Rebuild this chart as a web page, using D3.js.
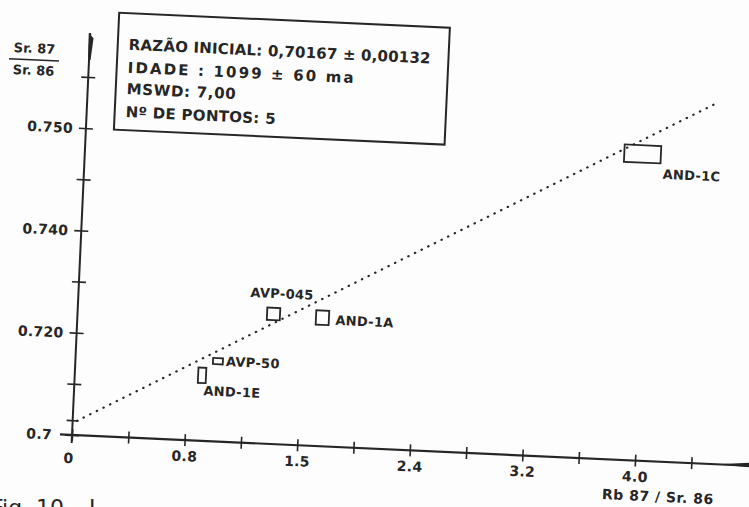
<html>
<head>
  <style type="text/css">
    body { margin: 0; background: #fdfdfd; }
    text { font-family: "DejaVu Sans", sans-serif; fill: #262626; }
  </style>
</head>
<body>
  <div id="viz"></div>
  <script src="https://cdnjs.cloudflare.com/ajax/libs/d3/7.8.5/d3.min.js"></script>
  <script>
  // tick values and the labels printed on the original (labels kept as printed)
  const xTicks = [0, 0.4, 0.8, 1.2, 1.6, 2.0, 2.4, 2.8, 3.2, 3.6, 4.0, 4.4];
  const xTickLabels = ['0', '', '0.8', '', '1.5', '', '2.4', '', '3.2', '', '4.0', ''];
  const yTicks = [0.70, 0.71, 0.72, 0.73, 0.74, 0.75, 0.76, 0.77];
  const yTickLabels = ['0.7', '', '0.720', '', '0.740', '', '0.750', ''];

  // samples: Rb87/Sr86, Sr87/Sr86 and the half size of the error boxes
  const samples = ['AND-1C', 'AND-1A', 'AVP-045', 'AVP-50', 'AND-1E'];
  const rbSr = [3.955, 1.738, 1.390, 1.011, 0.903];
  const srSr = [0.7599, 0.7251, 0.7254, 0.7157, 0.7128];
  const rbErr = [0.13, 0.046, 0.046, 0.035, 0.028];
  const srErr = [0.0017, 0.0014, 0.0012, 0.0006, 0.0015];

  // isochron as drawn (dotted)
  const lineX = [0.03, 4.48];
  const lineY = [0.7028, 0.7707];

  const legendLines = [
    'RAZÃO INICIAL:  0,70167 ± 0,00132',
    'IDADE :  1099  ±  60    ma',
    'MSWD:  7,00',
    'Nº DE PONTOS:  5'
  ];

  const width = 749, height = 507;
  const ox = 72, oy = 435;   // origin of the axes
  const ink = '#262626';

  const x = d3.scaleLinear().domain([0, 4.8]).range([ox, ox + 4.8 * 140.9]);
  const y = d3.scaleLinear().domain([0.70, 0.78]).range([oy, oy - 8 * 51.2]);

  const svg = d3.select('#viz').append('svg')
    .attr('width', width)
    .attr('height', height);

  svg.append('rect').attr('width', width).attr('height', height).attr('fill', '#fdfdfd');

  // the scanned page is a little skewed
  const g = svg.append('g')
    .attr('transform', 'rotate(2.6,' + ox + ',' + oy + ')');

  // x axis
  const xAxis = d3.axisBottom(x)
    .tickValues(xTicks)
    .tickFormat((d, i) => xTickLabels[i])
    .tickSizeOuter(0);

  const xg = g.append('g')
    .attr('transform', 'translate(0,' + oy + ')')
    .call(xAxis);
  xg.select('.domain').remove();
  xg.selectAll('.tick line').attr('y1', -6).attr('y2', 6)
    .attr('stroke', ink).attr('stroke-width', 1.6);
  xg.selectAll('.tick text')
    .attr('y', 0).attr('dy', 21)
    .attr('font-size', 14).attr('font-weight', 'bold').attr('letter-spacing', 0.3)
    .attr('fill', ink)
    .attr('font-family', '"DejaVu Sans", sans-serif');
  xg.selectAll('.tick text').filter((d, i) => i === 0).attr('dy', 28).attr('dx', -3);

  g.append('line')
    .attr('x1', ox - 12).attr('x2', x(4.81))
    .attr('y1', oy).attr('y2', oy)
    .attr('stroke', ink).attr('stroke-width', 2.2);
  // arrow head of x axis
  g.append('path')
    .attr('d', 'M' + x(4.58) + ',' + oy + 'L' + x(4.81) + ',' + (oy - 3) + 'L' + x(4.81) + ',' + (oy + 1.5) + 'Z')
    .attr('fill', ink);

  // y axis
  const yAxis = d3.axisLeft(y)
    .tickValues(yTicks)
    .tickFormat((d, i) => yTickLabels[i])
    .tickSizeOuter(0);

  const yg = g.append('g')
    .attr('transform', 'translate(' + ox + ',0)')
    .call(yAxis);
  yg.select('.domain').remove();
  yg.selectAll('.tick line').attr('x1', -7).attr('x2', 7)
    .attr('stroke', ink).attr('stroke-width', 1.6);
  yg.selectAll('.tick text')
    .attr('x', -13).attr('dy', '0.35em')
    .attr('font-size', 14).attr('font-weight', 'bold').attr('letter-spacing', 0.3)
    .attr('fill', ink)
    .attr('font-family', '"DejaVu Sans", sans-serif');
  yg.selectAll('.tick text').filter((d, i) => i === 0).attr('x', -20);

  g.append('line')
    .attr('x1', ox).attr('x2', ox)
    .attr('y1', oy + 8).attr('y2', y(0.7786))
    .attr('stroke', ink).attr('stroke-width', 2);
  // arrow head of y axis
  const yt = y(0.7786);
  g.append('path')
    .attr('d', 'M' + (ox - 1.5) + ',' + yt + 'L' + (ox + 3.5) + ',' + (yt + 5) +
      'L' + (ox + 1.5) + ',' + (yt + 27) + 'L' + (ox - 1) + ',' + (yt + 27) + 'Z')
    .attr('fill', ink);

  // small mark where the isochron meets the y axis
  g.append('line')
    .attr('x1', ox - 6).attr('x2', ox + 6)
    .attr('y1', y(lineY[0])).attr('y2', y(lineY[0]))
    .attr('stroke', ink).attr('stroke-width', 1.6);

  // axis titles
  const yt0 = g.append('g').attr('transform', 'translate(17,62)');
  yt0.append('text').attr('x', 0).attr('y', -7).attr('text-anchor', 'middle')
    .attr('font-size', 13).attr('font-weight', 'bold').text('Sr. 87');
  yt0.append('line').attr('x1', -25).attr('x2', 25).attr('y1', 0).attr('y2', 0)
    .attr('stroke', ink).attr('stroke-width', 1.5);
  yt0.append('text').attr('x', 0).attr('y', 15).attr('text-anchor', 'middle')
    .attr('font-size', 13).attr('font-weight', 'bold').text('Sr. 86');

  g.append('text')
    .attr('x', 660).attr('y', 475)
    .attr('text-anchor', 'middle')
    .attr('font-size', 14).attr('font-weight', 'bold').attr('letter-spacing', 0.5)
    .text('Rb 87 / Sr. 86');

  // dotted isochron
  g.append('line')
    .attr('x1', x(lineX[0])).attr('y1', y(lineY[0]))
    .attr('x2', x(lineX[1])).attr('y2', y(lineY[1]))
    .attr('stroke', ink).attr('stroke-width', 2.2)
    .attr('stroke-linecap', 'round')
    .attr('stroke-dasharray', '0.4,7');

  // error boxes
  g.selectAll('rect.pt').data(samples).enter().append('rect')
    .attr('class', 'pt')
    .attr('x', (d, i) => x(rbSr[i] - rbErr[i]))
    .attr('y', (d, i) => y(srSr[i] + srErr[i]))
    .attr('width', (d, i) => x(rbSr[i] + rbErr[i]) - x(rbSr[i] - rbErr[i]))
    .attr('height', (d, i) => y(srSr[i] - srErr[i]) - y(srSr[i] + srErr[i]))
    .attr('fill', 'none')
    .attr('stroke', ink).attr('stroke-width', 1.8);

  const labelOffset = {
    'AND-1C': [21, 24], 'AND-1A': [13, 6.5], 'AVP-045': [-24, -16],
    'AVP-50': [8, 4.6], 'AND-1E': [2, 20]
  };
  g.selectAll('text.pt').data(samples).enter().append('text')
    .attr('class', 'pt')
    .attr('x', (d, i) => x(rbSr[i]) + labelOffset[d][0])
    .attr('y', (d, i) => y(srSr[i]) + labelOffset[d][1])
    .attr('font-size', 13).attr('font-weight', 'bold').attr('letter-spacing', 0.3)
    .text(d => d);

  // legend box
  g.append('rect')
    .attr('x', 100).attr('y', 11).attr('width', 331).attr('height', 117)
    .attr('fill', 'none').attr('stroke', ink).attr('stroke-width', 2);

  const legendWidths = [302, 226, 109, 150];
  const legendBase = [47.5, 70.5, 92, 115];
  g.selectAll('text.leg').data(legendLines).enter().append('text')
    .attr('class', 'leg')
    .attr('x', 111)
    .attr('y', (d, i) => legendBase[i])
    .attr('font-size', 15).attr('font-weight', 'bold')
    .attr('textLength', (d, i) => legendWidths[i])
    .attr('lengthAdjust', 'spacing')
    .text(d => d);

  // caption of the figure, cut by the page edge
  svg.append('text')
    .attr('x', -9).attr('y', 515)
    .attr('font-family', '"Liberation Serif", serif')
    .attr('font-size', 22)
    .text('Fig. 10 – I');
  </script>
</body>
</html>
